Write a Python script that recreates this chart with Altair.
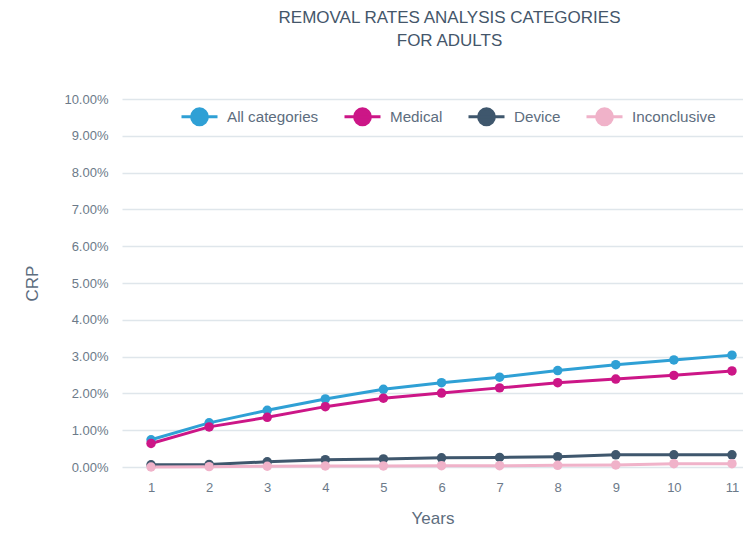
import altair as alt
import pandas as pd

years = list(range(1, 12))
all_categories = [0.74, 1.20, 1.54, 1.85, 2.11, 2.29, 2.44, 2.62, 2.78, 2.91, 3.04]
medical = [0.64, 1.09, 1.35, 1.64, 1.87, 2.01, 2.15, 2.29, 2.39, 2.49, 2.61]
device = [0.06, 0.07, 0.14, 0.20, 0.22, 0.25, 0.26, 0.28, 0.33, 0.33, 0.33]
inconclusive = [0.00, 0.01, 0.02, 0.03, 0.03, 0.035, 0.035, 0.045, 0.055, 0.09, 0.09]

series_names = ["All categories", "Medical", "Device", "Inconclusive"]
series_values = [all_categories, medical, device, inconclusive]
series_colors = ["#2fa0d5", "#cc1687", "#3f576d", "#f0b2c9"]
y_ticks = [i / 100 for i in range(0, 11)]

rows = []
for name, vals in zip(series_names, series_values):
    for yr, v in zip(years, vals):
        rows.append({"Year": yr, "Series": name, "CRP": v / 100})
df = pd.DataFrame(rows)

text_color = "#5d6d7e"
font = "Liberation Sans"

color = alt.Color(
    "Series:N",
    scale=alt.Scale(domain=series_names, range=series_colors),
    sort=series_names,
    legend=alt.Legend(
        title=None,
        orient="none",
        direction="horizontal",
        legendX=58,
        legendY=-2,
        symbolType="M-1,0H1M-0.44,0A0.44,0.44 0 1,0 0.44,0A0.44,0.44 0 1,0 -0.44,0Z",
        symbolSize=1296,
        symbolStrokeWidth=3,
        labelFontSize=15.2,
        labelColor=text_color,
        labelFont=font,
        labelOffset=8,
        columnPadding=19,
    ),
)

x = alt.X(
    "Year:Q",
    title="Years",
    scale=alt.Scale(domain=[0.5, 11.19], nice=False, zero=False),
    axis=alt.Axis(values=years, format="d", grid=False, domain=False, ticks=False,
                  labelPadding=14, titlePadding=16),
)
y = alt.Y(
    "CRP:Q",
    title="CRP",
    scale=alt.Scale(domain=[0, 0.1], nice=False),
    axis=alt.Axis(values=y_ticks, format=".2%", domain=False, ticks=False,
                  labelPadding=14, titlePadding=22),
)

base = alt.Chart(df).encode(x=x, y=y, color=color)
lines = base.mark_line(strokeWidth=3)
points = base.mark_circle(size=90, opacity=1)

chart = (
    alt.layer(lines, points)
    .properties(
        width=621,
        height=368,
        title=alt.TitleParams(
            text=["REMOVAL RATES ANALYSIS CATEGORIES", "FOR ADULTS"],
            fontSize=17,
            fontWeight="normal",
            font=font,
            color="#44566a",
            anchor="middle",
            dx=17,
            offset=43,
            lineHeight=23,
        ),
        padding={"left": 15, "top": 1, "right": 0, "bottom": 0},
    )
    .configure_view(stroke=None)
    .configure_axis(
        labelFontSize=13,
        labelColor="#6c7a89",
        labelFont=font,
        titleFontSize=17,
        titleFontWeight="normal",
        titleColor=text_color,
        titleFont=font,
        gridColor="#dfe6eb",
        gridWidth=1.5,
    )
)

chart.save("out.html", embed_options={"renderer": "svg", "actions": False})
